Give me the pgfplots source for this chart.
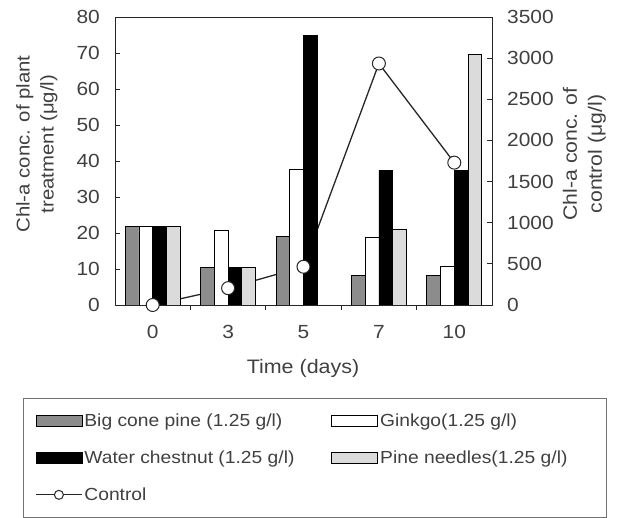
\documentclass[border=0pt]{standalone}
\usepackage{fontspec}
\setmainfont{Liberation Sans}[FakeStretch=1.1]
\usepackage{pgfplots}
\pgfplotsset{compat=1.18}
\definecolor{txt}{gray}{0.25}
\definecolor{bigcone}{gray}{0.55}
\definecolor{pineneedle}{gray}{0.86}
\tikzset{
  tickfont/.style={font=\fontsize{19}{23}\selectfont,text=txt},
  labfont/.style={font=\fontsize{18.5}{24}\selectfont,text=txt},
}
\begin{document}
\begin{tikzpicture}[x=1pt,y=1pt]
\path[use as bounding box] (0,0) rectangle (624,517);
\pgfplotsset{
  common/.style={width=377pt,height=288pt,scale only axis,
    at={(115pt,212pt)},anchor=south west,
    xmin=-0.5,xmax=4.5,
    /pgf/number format/assume math mode=true,
    /pgf/number format/1000 sep={},
    tick align=inside,
    major tick length=5pt,
    minor tick length=5pt,
    every tick/.style={black!85,line width=0.8pt},
    axis line style={black!85,line width=0.9pt},
  },
}
% ---------- right axis: control line (drawn behind the bars)
\begin{axis}[common,
  ymin=0,ymax=3500,
  axis y line*=right, axis x line=none,
  ytick={0,500,...,3500},
  yticklabel style={tickfont,anchor=west,inner sep=0pt,xshift=15pt},
  ylabel={Chl-a conc. of\\[2pt]control (μg/l)},
  ylabel style={labfont,font=\fontsize{19.3}{23}\selectfont,at={(axis description cs:1.245,0.524)},anchor=center,align=center},
]
\addplot[black!85,line width=1.3pt,no marks] coordinates {(0,0) (1,205) (2,465) (3,2935) (4,1730)};
\end{axis}
% ---------- left axis: bars
\begin{axis}[common,
  ybar=0pt, bar width=13.75pt,
  ymin=0,ymax=80,
  ytick={0,10,...,80}, ytick pos=left,
  xtick={0,1,2,3,4}, xticklabels={0,3,5,7,10}, xtick pos=bottom,
  major x tick style={draw=none},
  minor xtick={0.5,1.5,2.5,3.5},
  yticklabel style={tickfont,anchor=east,inner sep=0pt,xshift=-15pt},
  xticklabel style={tickfont,anchor=base,inner sep=0pt,yshift=-28pt},
  xlabel={Time (days)},
  xlabel style={labfont,font=\fontsize{19.5}{23}\selectfont,at={(axis description cs:0.4987,-0.219)},anchor=center},
  ylabel={Chl-a conc. of plant\\treatment (μg/l)},
  ylabel style={labfont,at={(axis description cs:-0.207,0.559)},anchor=center,align=center},
]
\addplot[draw=black,line width=0.8pt,fill=bigcone] coordinates {(0,21.7) (1,10.5) (2,19.0) (3,8.3) (4,8.3)};
\addplot[draw=black,line width=0.8pt,fill=white] coordinates {(0,21.7) (1,20.8) (2,37.7) (3,18.7) (4,10.6)};
\addplot[draw=black,line width=0.8pt,fill=black] coordinates {(0,21.7) (1,10.5) (2,75.0) (3,37.3) (4,37.3)};
\addplot[draw=black,line width=0.8pt,fill=pineneedle] coordinates {(0,21.7) (1,10.4) (2,0) (3,21.0) (4,69.7)};
\end{axis}
% ---------- markers on top + legend
\begin{axis}[common,
  ymin=0,ymax=3500, hide axis,
  legend columns=2,
  legend cell align=left,
  legend style={at={(axis description cs:-0.244,-0.3229)},anchor=north west,
    draw=black!55,line width=0.8pt,
    font=\fontsize{17.5}{21}\selectfont,text=txt,
    inner xsep=12pt,inner ysep=13pt,
    row sep=19pt},
]
\addplot[forget plot,only marks,mark=*,mark size=6.5pt,
  mark options={fill=white,draw=black!85,line width=1pt}]
  coordinates {(0,0) (1,205) (2,465) (3,2935) (4,1730)};
\addlegendimage{legend image code/.code={\draw[draw=black,line width=0.8pt,fill=bigcone] (0pt,-5.5pt) rectangle (46pt,5.5pt);}}
\addlegendimage{legend image code/.code={\draw[draw=black,line width=0.8pt,fill=white] (0pt,-5.5pt) rectangle (46pt,5.5pt);}}
\addlegendimage{legend image code/.code={\draw[draw=black,line width=0.8pt,fill=black] (0pt,-5.5pt) rectangle (46pt,5.5pt);}}
\addlegendimage{legend image code/.code={\draw[draw=black,line width=0.8pt,fill=pineneedle] (0pt,-5.5pt) rectangle (46pt,5.5pt);}}
\addlegendimage{legend image code/.code={\draw[black!85,line width=1pt] (0pt,0pt) -- (46pt,0pt);
   \draw[black!85,line width=1pt,fill=white] (23pt,0pt) circle (4.5pt);}}
\legend{\makebox[245pt][l]{Big cone pine (1.25 g/l)},\makebox[212pt][l]{Ginkgo(1.25 g/l)},
  \makebox[245pt][l]{Water chestnut (1.25 g/l)},\makebox[212pt][l]{Pine needles(1.25 g/l)},Control}
\end{axis}
\end{tikzpicture}
\end{document}
